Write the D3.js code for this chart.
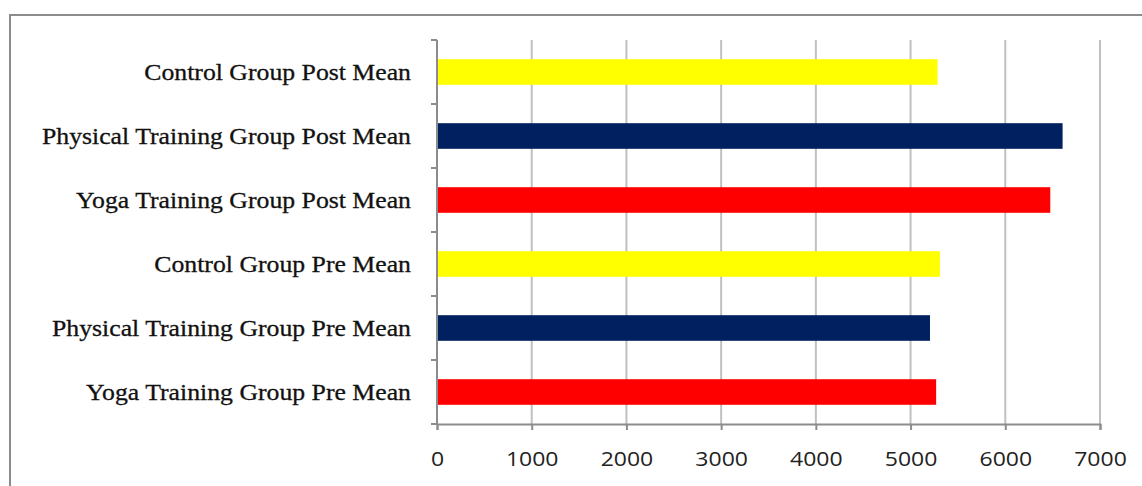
<!DOCTYPE html>
<html>
<head>
<meta charset="utf-8">
<script src="https://cdn.jsdelivr.net/npm/d3@7"></script>
<style>
  html, body { margin: 0; padding: 0; background: #fff; }
  svg { display: block; }
</style>
</head>
<body>
<svg id="chart" width="1142" height="486"></svg>
<script>
// Group means, listed bottom to top as they appear on the chart
const categories = [
  "Yoga Training Group Pre Mean",
  "Physical Training Group Pre Mean",
  "Control Group Pre Mean",
  "Yoga Training Group Post Mean",
  "Physical Training Group Post Mean",
  "Control Group Post Mean"
];
const values = [5270, 5205, 5310, 6475, 6605, 5285];
const barColors = ["#ff0000", "#002060", "#ffff00", "#ff0000", "#002060", "#ffff00"];
const xTicks = [0, 1000, 2000, 3000, 4000, 5000, 6000, 7000];

const svg = d3.select("#chart");
const plotLeft = 437, plotRight = 1100, plotTop = 40, plotBottom = 424;

// outer chart frame
svg.append("rect")
  .attr("x", 10).attr("y", 15)
  .attr("width", 1150).attr("height", 500)
  .attr("fill", "none").attr("stroke", "#8c8c8c").attr("stroke-width", 2);

const x = d3.scaleLinear().domain([0, 7000]).range([plotLeft, plotRight]);
const y = d3.scaleBand()
  .domain(categories.slice().reverse())
  .range([plotTop, plotBottom])
  .paddingInner(0.6).paddingOuter(0.3);

// vertical gridlines
svg.append("g").selectAll("line")
  .data(xTicks.slice(1))
  .join("line")
  .attr("x1", d => x(d)).attr("x2", d => x(d))
  .attr("y1", plotTop).attr("y2", plotBottom)
  .attr("stroke", "#c0c0c0").attr("stroke-width", 2);

// bars
svg.append("g").selectAll("rect")
  .data(categories)
  .join("rect")
  .attr("x", x(0))
  .attr("y", d => y(d))
  .attr("width", (d, i) => x(values[i]) - x(0))
  .attr("height", y.bandwidth())
  .attr("fill", (d, i) => barColors[i]);

// x axis
const xAxis = svg.append("g")
  .attr("transform", `translate(0,${plotBottom})`)
  .call(d3.axisBottom(x).tickValues(xTicks).tickSize(6).tickPadding(22).tickFormat(d3.format("d")));
xAxis.select(".domain").attr("stroke", "#8c8c8c").attr("stroke-width", 2);
xAxis.selectAll(".tick line").attr("stroke", "#8c8c8c").attr("stroke-width", 2);
xAxis.selectAll(".tick text")
  .attr("font-family", "'Open Sans', 'Liberation Sans', sans-serif")
  .attr("font-size", 20).attr("fill", "#222")
  .attr("transform", "scale(1.15,1)");

// y axis: boundary ticks between categories, labels centred in bands
const bandEdges = d3.range(categories.length + 1).map(i => plotTop + i * (plotBottom - plotTop) / categories.length);
svg.append("line")
  .attr("x1", plotLeft).attr("x2", plotLeft).attr("y1", plotTop).attr("y2", plotBottom)
  .attr("stroke", "#8c8c8c").attr("stroke-width", 2);
svg.append("g").selectAll("line")
  .data(bandEdges)
  .join("line")
  .attr("x1", plotLeft - 6).attr("x2", plotLeft)
  .attr("y1", d => d).attr("y2", d => d)
  .attr("stroke", "#8c8c8c").attr("stroke-width", 2);

svg.append("g").selectAll("g")
  .data(categories)
  .join("g")
  .attr("transform", d => `translate(411,${y(d) + y.bandwidth() / 2})`)
  .append("text")
  .attr("dy", "0.35em")
  .attr("text-anchor", "end")
  .attr("transform", "scale(1.12,1)")
  .attr("font-family", "'Liberation Serif', 'Times New Roman', serif")
  .attr("font-size", 23)
  .attr("fill", "#111")
  .attr("stroke", "#111").attr("stroke-width", 0.3)
  .text(d => d);
</script>
</body>
</html>
